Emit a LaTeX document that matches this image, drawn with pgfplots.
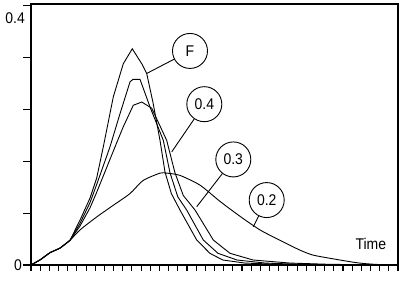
\documentclass[border=0pt]{standalone}
\usepackage{pgfplots}
\pgfplotsset{compat=1.18}
\usepackage{fontspec}
\setmainfont{Liberation Sans}[FakeStretch=0.9]
\newcommand{\lf}{\fontsize{15.5bp}{16bp}\selectfont}
\begin{document}
\begin{tikzpicture}
\path[use as bounding box] (0,0) rectangle (411bp,287bp);
\begin{axis}[
  at={(31bp,22bp)}, anchor=south west,
  scale only axis, width=367bp, height=261bp,
  xmin=0, xmax=40, ymin=0, ymax=0.402,
  axis line style={line width=1.5bp},
  xtick={0,1,...,40},
  xticklabels=\empty,
  xtick pos=bottom, ytick pos=left,
  major tick length=5.5bp,
  tick align=outside,
  every tick/.style={black, line width=1.1bp},
  ytick=\empty,
  extra y ticks={0,0.08,0.16,0.24,0.32,0.4},
  extra y tick labels={0,,,,,},
  extra y tick style={major tick length=8bp, tick pos=left, yticklabel style={font=\lf, inner sep=0pt, xshift=-1bp}},
  clip=false,
]
\addplot[black, line width=0.9bp] coordinates {
(0,0) (1,0.008) (2.07,0.019) (3.16,0.026) (4.25,0.038) (5.34,0.069) (6.43,0.103) (7.16,0.134) (7.88,0.182) (8.97,0.259) (10.06,0.310) (11.04,0.333) (12.07,0.310) (12.61,0.295) (13.3,0.250) (14.06,0.192) (14.6,0.1435) (15.3,0.110) (16.24,0.0846) (18.06,0.0385) (19.5,0.018) (20.9,0.0077) (23.3,0.003) (27,0.001) (40,0)
};
\addplot[black, line width=0.9bp] coordinates {
(0,0) (1,0.008) (2.07,0.019) (3.16,0.026) (4.25,0.038) (5.34,0.064) (6.43,0.096) (7.16,0.124) (8.61,0.182) (9.70,0.233) (10.79,0.282) (11.12,0.286) (11.88,0.286) (12.97,0.2435) (14.42,0.192) (15.15,0.142) (16.0,0.105) (16.97,0.0846) (18.78,0.0385) (20.38,0.018) (22.45,0.0077) (25.5,0.003) (29.3,0.001) (40,0)
};
\addplot[black, line width=0.9bp] coordinates {
(0,0) (1,0.008) (2.07,0.019) (3.16,0.026) (4.25,0.038) (5.34,0.060) (6.43,0.088) (7.16,0.112) (9.16,0.182) (10.06,0.213) (11.15,0.246) (12.07,0.251) (13.16,0.2415) (14.79,0.192) (15.69,0.142) (16.6,0.107) (17.88,0.0846) (19.87,0.0385) (21.69,0.018) (24.2,0.0077) (28.2,0.003) (32.6,0.001) (40,0)
};
\addplot[black, line width=0.9bp, smooth, tension=0.4] coordinates {
(0,0) (1,0.008) (2.07,0.019) (3.16,0.026) (4.25,0.038) (5.34,0.054) (7.16,0.074) (8.97,0.092) (10.79,0.110) (12.2,0.130) (14.06,0.1415) (14.8,0.1415) (16.24,0.138) (18.42,0.123) (20.6,0.098) (22.78,0.075) (24.96,0.054) (27.14,0.038) (29.3,0.023) (30.7,0.0154) (32.6,0.0103) (35.5,0.0035) (37.5,0.001) (40,0)
};
\draw[line width=0.9bp] (axis cs:12.61,0.295) -- (axis cs:17.33,0.3297);
\draw[line width=0.9bp] (axis cs:15.34,0.1743) -- (axis cs:18.89,0.2477);
\draw[line width=0.9bp] (axis cs:18.06,0.0897) -- (axis cs:22.05,0.1626);
\draw[line width=0.9bp] (axis cs:24.23,0.0589) -- (axis cs:25.69,0.1);
\tikzset{lab/.style={circle, draw, fill=white, line width=0.9bp, minimum size=35bp, inner sep=0pt, font=\lf}}
\node[lab] at (axis cs:17.33,0.3297) {F};
\node[lab] at (axis cs:18.89,0.2477) {0.4};
\node[lab] at (axis cs:22.05,0.1626) {0.3};
\node[lab] at (axis cs:25.69,0.1) {0.2};
\node[font=\lf, inner sep=0pt] at (axis cs:37.04,0.0328) {Time};
\node[font=\lf, inner sep=0pt, anchor=north east] at ([xshift=-6bp,yshift=-8bp]rel axis cs:0,1) {0.4};
\end{axis}
\end{tikzpicture}
\end{document}
